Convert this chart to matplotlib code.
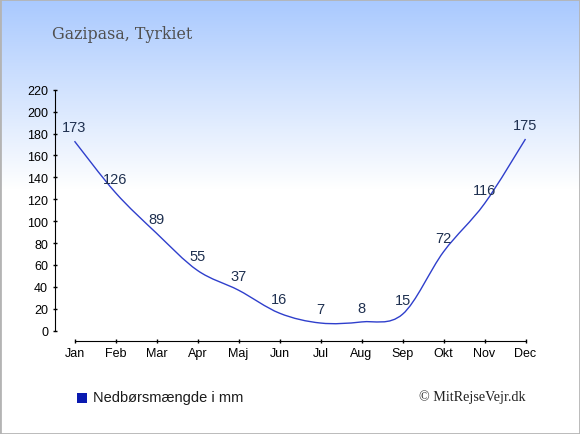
import numpy as np
import matplotlib
matplotlib.use("Agg")
import matplotlib.pyplot as plt
from matplotlib.path import Path
from matplotlib.patches import PathPatch, Rectangle
from matplotlib.colors import LinearSegmentedColormap

months = ["Jan", "Feb", "Mar", "Apr", "Maj", "Jun", "Jul", "Aug", "Sep", "Okt", "Nov", "Dec"]
rain = [173, 126, 89, 55, 37, 16, 7, 8, 15, 72, 116, 175]
yticks = [0, 20, 40, 60, 80, 100, 120, 140, 160, 180, 200, 220]
title = "Gazipasa, Tyrkiet"
legend_label = "Nedbørsmængde i mm"
credit = "© MitRejseVejr.dk"

W, H = 580, 435
PX = 72 / 100  # points per pixel
fig = plt.figure(figsize=(W / 100, H / 100), dpi=100)

# background gradient
bg = fig.add_axes([0, 0, 1, 1], zorder=-10)
bg.set_axis_off()
top_frac = 190 / H
rows = np.arange(H) / H
g = np.clip(rows / top_frac, 0, 1)
cmap = LinearSegmentedColormap.from_list("bg", ["#a9c9fe", "#ffffff"])
bg.imshow(g[:, None] * np.ones((1, 2)), cmap=cmap, aspect="auto", extent=[0, 1, 0, 1], vmin=0, vmax=1)
bg.add_patch(Rectangle((0, 0), 1, 1, transform=bg.transAxes, fill=False, edgecolor="#b4b4b4", lw=2))
bg.set_xlim(0, 1)
bg.set_ylim(0, 1)

# main axes
x0, x1 = 74.5, 525.5
ytop, ybot = 90.7, 331.7
ax = fig.add_axes([x0 / W, (H - ybot) / H, (x1 - x0) / W, (ybot - ytop) / H])
ax.patch.set_alpha(0)
x = np.arange(len(months))
ax.set_xlim(0, len(months) - 1)
ax.set_ylim(0, 220)

# smooth curve (Catmull-Rom via cubic Bezier segments)
pts = np.column_stack([x, rain]).astype(float)
verts = [tuple(pts[0])]
codes = [Path.MOVETO]
n = len(pts)
for i in range(n - 1):
    p0 = pts[max(i - 1, 0)]
    p1 = pts[i]
    p2 = pts[i + 1]
    p3 = pts[min(i + 2, n - 1)]
    c1 = p1 + (p2 - p0) / 6
    c2 = p2 - (p3 - p1) / 6
    verts += [tuple(c1), tuple(c2), tuple(p2)]
    codes += [Path.CURVE4] * 3
ax.add_patch(PathPatch(Path(verts, codes), fill=False, edgecolor="#2f3fcc", lw=1.0, clip_on=False))

for xi, v in zip(x, rain):
    ax.annotate(str(v), (xi, v), xytext=(0, 14 * PX), textcoords="offset points",
                ha="center", va="center", fontsize=10.5, color="#1f3050",
                family="Liberation Sans")

for s in ["top", "right"]:
    ax.spines[s].set_visible(False)
ax.spines["left"].set_position(("outward", 20 * PX))
ax.spines["bottom"].set_position(("outward", 10 * PX))
ax.spines["left"].set_bounds(0, 220)
ax.spines["bottom"].set_bounds(0, 11)
ax.set_yticks(yticks)
ax.set_xticks(x)
ax.set_xticklabels(months)
ax.tick_params(axis="y", direction="inout", length=5 * PX, width=1, pad=4 * PX, labelsize=9, colors="black")
ax.tick_params(axis="x", direction="inout", length=5 * PX, width=1, pad=4 * PX, labelsize=9, colors="black")
for lab in ax.get_xticklabels() + ax.get_yticklabels():
    lab.set_family("Liberation Sans")

fig.text(52 / W, 1 - 39 / H, title, fontsize=11.4, color="#505050", family="DejaVu Serif",
         ha="left", va="baseline")

fig.patches.append(Rectangle((77 / W, 1 - 404 / H), 10 / W, 10 / H, transform=fig.transFigure,
                             facecolor="#0a1ab0", edgecolor="none"))
fig.text(93 / W, 1 - 398 / H, legend_label, fontsize=10.5, color="#1a1a1a",
         family="Liberation Sans", ha="left", va="center")
fig.text(526 / W, 1 - 397 / H, credit, fontsize=10.2, color="#222222",
         family="Liberation Serif", ha="right", va="center")

fig.savefig("out.png", dpi=100)
